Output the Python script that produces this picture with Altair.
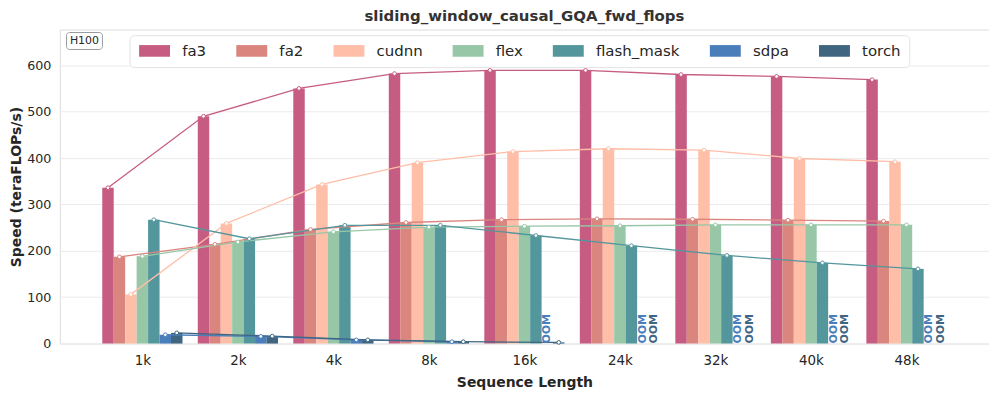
import json
import pandas as pd
import altair as alt

# ---------------- data ----------------
seq_labels = ["1k", "2k", "4k", "8k", "16k", "24k", "32k", "40k", "48k"]
series_names = ["fa3", "fa2", "cudnn", "flex", "flash_mask", "sdpa", "torch"]
series_colors = ["#c75c83", "#da857e", "#ffbea8", "#97c7a7", "#53979d", "#4a7ebb", "#3f6581"]

fa3 = [336, 490, 550, 582, 589, 589, 580, 576, 569]
fa2 = [187, 214, 246, 261, 267, 269, 268, 266, 264]
cudnn = [106, 259, 343, 390, 414, 420, 417, 399, 392]
flex = [188, 219, 241, 251, 253, 254, 256, 256, 256]
flash_mask = [267, 226, 255, 255, 233, 211, 190, 174, 161]
sdpa = [19, 15.5, 8, 4, None, None, None, None, None]       # None = OOM
torch = [23, 16, 8, 4, 2.5, None, None, None, None]          # None = OOM

title_text = "sliding_window_causal_GQA_fwd_flops"
gpu_label = "H100"
y_ticks = [0, 100, 200, 300, 400, 500, 600]

# ---------------- table ----------------
BAR_W = 0.12
values_by_series = {
    "fa3": fa3, "fa2": fa2, "cudnn": cudnn, "flex": flex,
    "flash_mask": flash_mask, "sdpa": sdpa, "torch": torch,
}
rows, oom_rows = [], []
for si, name in enumerate(series_names):
    for gi, v in enumerate(values_by_series[name]):
        xc = gi + (si - (len(series_names) - 1) / 2) * BAR_W
        if v is None:
            oom_rows.append(dict(series=name, xc=xc, label="OOM", zero=0))
        else:
            rows.append(dict(series=name, xc=xc, x0=xc - BAR_W / 2, x1=xc + BAR_W / 2, value=v))
df = pd.DataFrame(rows)
oom_df = pd.DataFrame(oom_rows)

FONT = "DejaVu Sans"
xscale = alt.Scale(domain=[-0.864, len(seq_labels) - 1 + 0.864], nice=False, zero=False)
yscale = alt.Scale(domain=[0, 677], nice=False, zero=False)
cscale = alt.Scale(domain=series_names, range=series_colors)

label_expr = json.dumps(seq_labels) + "[datum.value]"

x_axis = alt.Axis(values=list(range(len(seq_labels))), labelExpr=label_expr,
                  title="Sequence Length", grid=False, ticks=False, domain=False,
                  labelPadding=10, labelFontSize=13.5, labelFont=FONT, labelColor="#262626",
                  titleFont=FONT, titleFontSize=14, titleFontWeight="bold",
                  titleColor="#262626", titlePadding=9)
y_axis = alt.Axis(values=y_ticks, title="Speed (teraFLOPs/s)", grid=True,
                  gridColor="#ebebeb", gridWidth=1, ticks=False, domain=False,
                  labelPadding=9, labelFontSize=12.7, labelFont=FONT, labelColor="#262626",
                  titleFont=FONT, titleFontSize=14, titleFontWeight="bold",
                  titleColor="#262626", titlePadding=3)

legend = alt.Legend(title=None, orient="none", legendX=70, legendY=5.7,
                    direction="horizontal", columns=7,
                    symbolType="M-1,-0.975H4.167V0.975H-1Z", symbolSize=144,
                    symbolStrokeWidth=0, symbolOpacity=1,
                    labelFontSize=15, labelFont=FONT, labelColor="#262626",
                    labelOffset=29.7, columnPadding=28.5, padding=8,
                    fillColor="white", strokeColor="#e3e3e3", cornerRadius=4)

bars = alt.Chart(df).mark_bar().encode(
    x=alt.X("x0:Q", scale=xscale, axis=x_axis),
    x2="x1:Q",
    y=alt.Y("value:Q", scale=yscale, axis=y_axis),
    y2=alt.datum(0),
    color=alt.Color("series:N", scale=cscale, legend=legend),
)

lines = alt.Chart(df).mark_line(strokeWidth=1.3).encode(
    x=alt.X("xc:Q", scale=xscale, axis=x_axis),
    y=alt.Y("value:Q", scale=yscale, axis=y_axis),
    color=alt.Color("series:N", scale=cscale, legend=legend),
)

points = alt.Chart(df).mark_point(shape="circle", size=14, strokeWidth=1.0,
                                  filled=False, fill="white", opacity=1).encode(
    x=alt.X("xc:Q", scale=xscale, axis=x_axis),
    y=alt.Y("value:Q", scale=yscale, axis=y_axis),
    color=alt.Color("series:N", scale=cscale, legend=legend),
)

oom = alt.Chart(oom_df).mark_text(angle=270, align="left", baseline="middle",
                                  fontSize=11, fontWeight="bold", font=FONT).encode(
    x=alt.X("xc:Q", scale=xscale, axis=x_axis),
    y=alt.Y("zero:Q", scale=yscale, axis=y_axis),
    text="label:N",
    color=alt.Color("series:N", scale=cscale, legend=legend),
)

ann_df = pd.DataFrame({"label": [gpu_label]})
gpu_box = alt.Chart(ann_df).mark_rect(fill="white", stroke="#9a9a9a", strokeWidth=1,
                                      cornerRadius=3).encode(
    x=alt.value(6.7), x2=alt.value(42.7), y=alt.value(3), y2=alt.value(20))
gpu_text = alt.Chart(ann_df).mark_text(fontSize=11, font=FONT, color="#262626",
                                       align="center", baseline="middle").encode(
    x=alt.value(24.7), y=alt.value(11.8), text="label:N")

chart = alt.layer(bars, lines, points, oom, gpu_box, gpu_text).properties(
    width=932, height=315,
    title=alt.TitleParams(title_text, fontSize=15, font=FONT, fontWeight="bold",
                          color="#333333", anchor="middle", offset=6),
    autosize=alt.AutoSizeParams(type="none"),
    padding={"left": 52, "top": 21, "right": 0, "bottom": 50},
).configure_view(stroke="#dcdcdc", strokeWidth=1)

chart.save("out.html", embed_options={"renderer": "svg", "actions": False})
